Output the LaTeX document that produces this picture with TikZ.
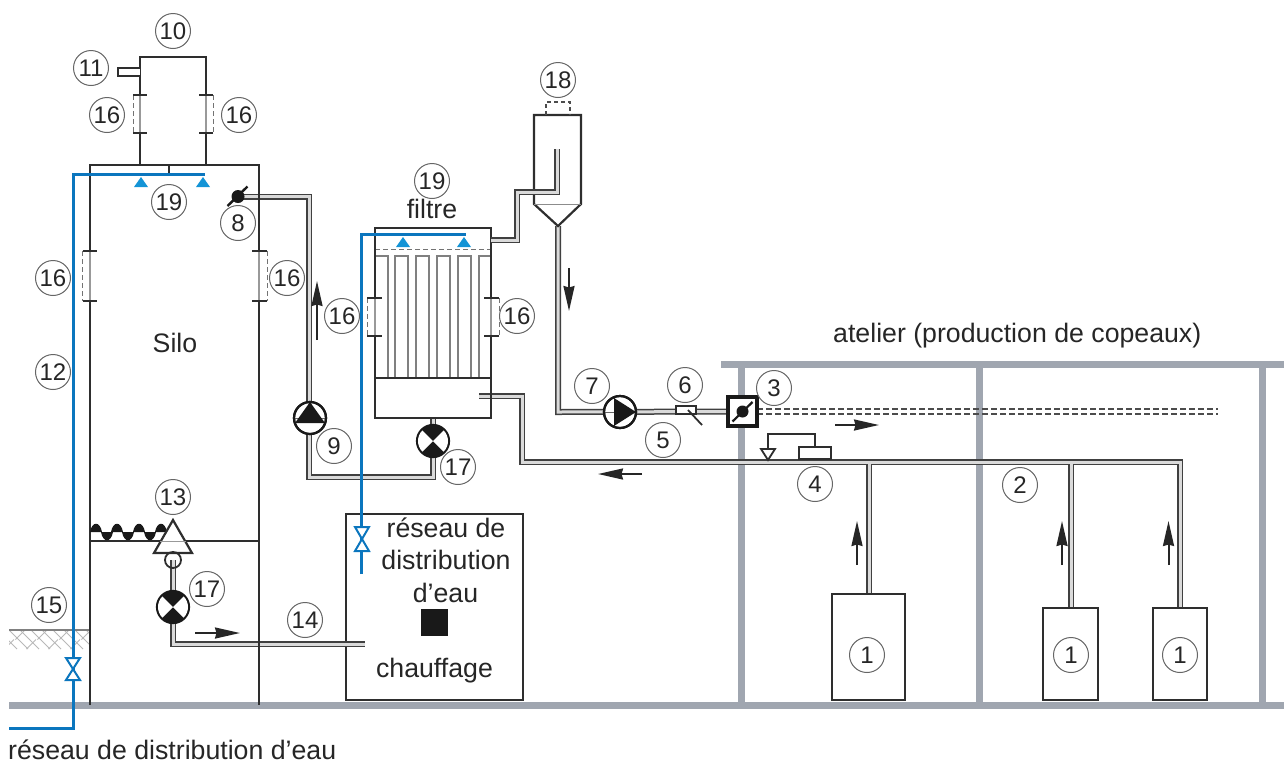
\documentclass[tikz,border=0pt]{standalone}
\usepackage{fontspec}
\setmainfont{Liberation Sans}
\usetikzlibrary{arrows.meta}
\definecolor{wallc}{HTML}{2E2E2E}
\definecolor{bldg}{HTML}{A0A6B0}
\definecolor{bluep}{HTML}{0B76BE}
\definecolor{bluet}{HTML}{1494D6}
\definecolor{pipein}{HTML}{DADADA}
\tikzset{
  x=1pt,y=-1pt,
  wall/.style={line width=2.2pt,draw=wallc,line join=miter},
  tick/.style={line width=1.8pt,draw=wallc},
  dashline/.style={line width=1pt,draw=black!55,dash pattern=on 5pt off 3pt},
  bldgline/.style={line width=7pt,draw=bldg},
  pipeo/.style={line width=6pt,draw=black!75,line join=miter},
  pipei/.style={line width=3pt,draw=pipein,line join=miter},
  bluel/.style={line width=3pt,draw=bluep,line join=miter},
  num/.style={circle,draw=black!60,line width=1pt,minimum size=35pt,inner sep=0pt,fill=white,
    font=\fontsize{24}{24}\selectfont,text=black!85},
  lab/.style={inner sep=0pt,font=\fontsize{26.7}{26.7}\selectfont,text=black!85,anchor=base},
  flow/.style={line width=2pt,draw=black!85,-{Stealth[length=25pt,width=11pt,inset=1.5pt]}},
  round16/.style={circle,draw=black!90,line width=2.2pt,minimum size=32pt,inner sep=0pt,fill=white},
  tube/.style={line width=1.5pt,draw=black!50},
  box/.style={wall,fill=white},
}
\newcommand{\pipepath}[1]{\draw[pipeo] #1; \draw[pipei] #1;}
\newcommand{\wvalve}[3]{%
  \filldraw[line width=2pt,draw=bluep,fill=white,line join=miter] (#1-7,#2-#3) -- (#1+7,#2-#3) -- (#1,#2) -- cycle;
  \filldraw[line width=2pt,draw=bluep,fill=white,line join=miter] (#1-7,#2+#3) -- (#1+7,#2+#3) -- (#1,#2) -- cycle;}
\newcommand{\crosspump}[2]{% name, coordinate
  \node[round16,fill=black!90] (#1) at (#2) {};
  \fill[white] (#2) -- +(135:15pt) arc[start angle=135,end angle=225,radius=15pt] -- cycle;
  \fill[white] (#2) -- +(-45:15pt) arc[start angle=-45,end angle=45,radius=15pt] -- cycle;}
\newcommand{\nozzle}[2]{\fill[bluet] (#1,#2-5) -- (#1+7,#2+5) -- (#1-7,#2+5) -- cycle;}
\newcommand{\flange}[5]{% xwall, xdash, y1, y2, xother-tick-side
  \draw[line width=3pt,white] (#1,#3) -- (#1,#4);
  \draw[line width=1.2pt,draw=black!40] (#1,#3) -- (#1,#4);
  \draw[dashline] (#2,#3) -- (#2,#4);
  \draw[tick] (#2,#3) -- (#5,#3);
  \draw[tick] (#2,#4) -- (#5,#4);}
\begin{document}
\begin{tikzpicture}
\useasboundingbox (0,0) rectangle (1284,764);
% building
\draw[bldgline] (721,364) -- (1284,364);
\draw[bldgline] (741,364) -- (741,705);
\draw[bldgline] (979,364) -- (979,705);
\draw[bldgline] (1262,364) -- (1262,705);
\draw[bldgline] (9,705) -- (1284,705);
% soil
\begin{scope}
\clip (9,630) rectangle (90,649);
\foreach \i in {-2,...,10} {
  \draw[line width=1pt,black!28] (9+\i*11,630) -- +(19,19);
}
\foreach \i in {-1,...,4} {
  \draw[line width=1pt,black!28] (25+\i*22,630) -- +(-9.5,9.5);
  \draw[line width=1pt,black!28] (14+\i*22,639.5) -- +(-9.5,9.5);
}
\end{scope}
\draw[line width=1.2pt,black!50] (9,630) -- (90,630);
% key points
\coordinate (v8) at (238,196.5);
\coordinate (p9) at (310,418);
\coordinate (p17a) at (433,441);
\coordinate (p17b) at (173,607);
\coordinate (p7) at (620,412);
\coordinate (v3) at (742.5,411.5);
\coordinate (apex) at (558,226);
% pipes
\pipepath{(v8) -- (309,196.5) -- (309,477) -- (433,477) -- (433,418)}
\pipepath{(apex) -- (558,412) -- (v3)}
\pipepath{(479,396) -- (522,396) -- (522,462) -- (1180,462) -- (1180,608)
  (869,462) -- (869,594) (1071,462) -- (1071,608)}
\pipepath{(173,560) -- (173,644) -- (365,644)}
% dashed double pipe
\draw[line width=1.6pt,black!70,dash pattern=on 6pt off 3pt] (757,409) -- (1218,409);
\draw[line width=1.6pt,black!70,dash pattern=on 6pt off 3pt] (757,414) -- (1218,414);
% silo
\draw[wall] (90,705) -- (90,165) -- (259,165) -- (259,705);
\draw[wall] (90,541) -- (259,541);
\draw[wall] (169,165) -- (169,174);
\flange{90}{82.5}{251}{301}{97}
\flange{259}{267}{251}{301}{252}
% top box
\draw[wall] (140,165) -- (140,57) -- (206,57) -- (206,165);
\draw[line width=1.8pt,draw=wallc,fill=white] (140,68) -- (118,68) -- (118,76) -- (140,76);
\flange{140}{133}{95}{133}{147}
\flange{206}{213}{95}{133}{199}
% heating box
\draw[wall] (346,514) rectangle (523,700);
\fill[black!90] (421,609) rectangle (448,636);
\pipepath{(340,644) -- (365,644)}
% filter tubes
\foreach \a/\b in {375/388,395/408,416/429,437/450,458/471,479/491} {
  \draw[tube] (\a,378) -- (\a,256) -- (\b,256) -- (\b,378);
}
\draw[dashline] (375,249) -- (491,249);
\draw[wall] (375,378) -- (375,228) -- (491,228) -- (491,378);
\draw[wall] (375,378) rectangle (491,418);
\flange{375}{367}{298}{336}{382}
\flange{491}{499}{298}{336}{484}
% cyclone
\draw[wall] (534,204) -- (534,115) -- (581,115) -- (581,204) -- (apex) -- cycle;
\draw[line width=1pt,black!45] (534,204) -- (581,204);
\draw[line width=1.2pt,black!70,dash pattern=on 4pt off 3pt] (546,115) -- (546,102) -- (570,102) -- (570,115);
\pipepath{(491,240) -- (517,240) -- (517,192) -- (557,192) -- (557,149)}
% pump 9
\node[round16] (pump9) at (p9) {};
\draw[line width=1pt,black!60] (294,418) -- (326,418);
\fill[black!90] (310,402) -- (325,423) -- (295,423) -- cycle;
\node[round16,fill=none] at (p9) {};
% pump 7
\node[round16] (pump7) at (p7) {};
\draw[line width=1pt,black!60] (614,396) -- (614,428) (604,412) -- (614,412);
\fill[black!90] (636,412) -- (614,398) -- (614,426) -- cycle;
\node[round16,fill=none] at (p7) {};
% pumps 17
\crosspump{pumpa}{p17a}
\crosspump{pumpb}{p17b}
% screw conveyor
\foreach \x in {96,117,139,161} {\fill[black!90] (\x-6,532) .. controls (\x-4,521) and (\x+4,521) .. (\x+6,532) -- cycle;}
\foreach \x in {107,128,150} {\fill[black!90] (\x-6,532) .. controls (\x-4,543) and (\x+4,543) .. (\x+6,532) -- cycle;}
% screw head 13
\filldraw[wall,fill=white] (173,520) -- (192,553) -- (154,553) -- cycle;
\draw[line width=1pt,black!40] (160,541) -- (186,541);
\draw[line width=1.8pt,wallc] (173,560) circle (8pt);
% valve 8
\node[circle,fill=black!90,minimum size=13pt,inner sep=0pt] (valve8) at (v8) {};
\draw[line width=2.4pt,black!90] (227.5,206) -- (247.5,186.5);
% meter 6
\draw[line width=2pt,wallc,fill=white] (676,406) rectangle (696,414);
\draw[line width=1.8pt,wallc] (688,410) -- (702,425);
% flap 3
\draw[line width=3.2pt,black!90,fill=white] (728,397) rectangle (757,426);
\node[circle,fill=black!90,minimum size=12pt,inner sep=0pt] (valve3) at (v3) {};
\draw[line width=2.2pt,black!90] (732.5,421.5) -- (752.5,402);
% regulator 4
\draw[line width=2pt,wallc,fill=white] (799,447) rectangle (831,459);
\draw[line width=1.8pt,wallc] (815,447) -- (815,434) -- (768,434) -- (768,450);
\draw[line width=1.8pt,wallc,fill=white] (761,449) -- (775,449) -- (768,460) -- cycle;
% workshop machines
\draw[box] (832,594) rectangle (905,700);
\draw[box] (1043,608) rectangle (1098,700);
\draw[box] (1153,608) rectangle (1207,700);
% blue water lines
\draw[bluel] (9,728) -- (73,728) -- (73,174) -- (205,174);
\draw[bluel] (361.5,574) -- (361.5,234) -- (466,234);
\nozzle{141}{182}
\nozzle{203}{182}
\nozzle{403}{242}
\nozzle{464}{242}
\wvalve{73}{669}{11}
\wvalve{362}{539}{12}
% flow arrows
\draw[flow] (317,340) -- (317,281);
\draw[flow] (569,268) -- (569,311);
\draw[flow] (835,425) -- (879,425);
\draw[flow] (642,474) -- (598,474);
\draw[flow] (195,633) -- (240,633);
\draw[flow] (857,565) -- (857,521);
\draw[flow] (1062,565) -- (1062,521);
\draw[flow] (1168.5,565) -- (1168.5,521);
% numbers
\node[num] (n10) at (173,31) {10};
\node[num] (n11) at (91,68) {11};
\node[num] (n16a) at (107,115) {16};
\node[num] (n16b) at (239,115) {16};
\node[num] (n19a) at (169,202) {19};
\node[num] (n8) at (238,223) {8};
\node[num] (n16c) at (53,278) {16};
\node[num] (n16d) at (287,278) {16};
\node[num] (n12) at (53,372) {12};
\node[num] (n13) at (173,497) {13};
\node[num] (n15) at (49,605) {15};
\node[num] (n17b) at (207,589) {17};
\node[num] (n14) at (305,620) {14};
\node[num] (n18) at (558,80) {18};
\node[num] (n19b) at (432,181) {19};
\node[num] (n16e) at (342,316) {16};
\node[num] (n16f) at (517,316) {16};
\node[num] (n9) at (334,446) {9};
\node[num] (n17a) at (458,467) {17};
\node[num] (n7) at (592,386) {7};
\node[num] (n6) at (685,385) {6};
\node[num] (n3) at (774,388) {3};
\node[num] (n5) at (663,440) {5};
\node[num] (n4) at (815,484) {4};
\node[num] (n2) at (1020,485) {2};
\node[num] (n1a) at (867,655) {1};
\node[num] (n1b) at (1071,655) {1};
\node[num] (n1c) at (1180,655) {1};
% texts
\node[lab] (tfiltre) at (432,218) {filtre};
\node[lab] (tsilo) at (175,352) {Silo};
\node[lab,anchor=base west] (tatelier) at (833,342) {atelier (production de copeaux)};
\node[lab,anchor=base west] (tres) at (8,759) {réseau de distribution d’eau};
\node[lab] (tr1) at (446,537) {réseau de};
\node[lab] (tr2) at (446,569) {distribution};
\node[lab] (tr3) at (445.5,602) {d’eau};
\node[lab] (tch) at (434.5,677) {chauffage};
\end{tikzpicture}
\end{document}
